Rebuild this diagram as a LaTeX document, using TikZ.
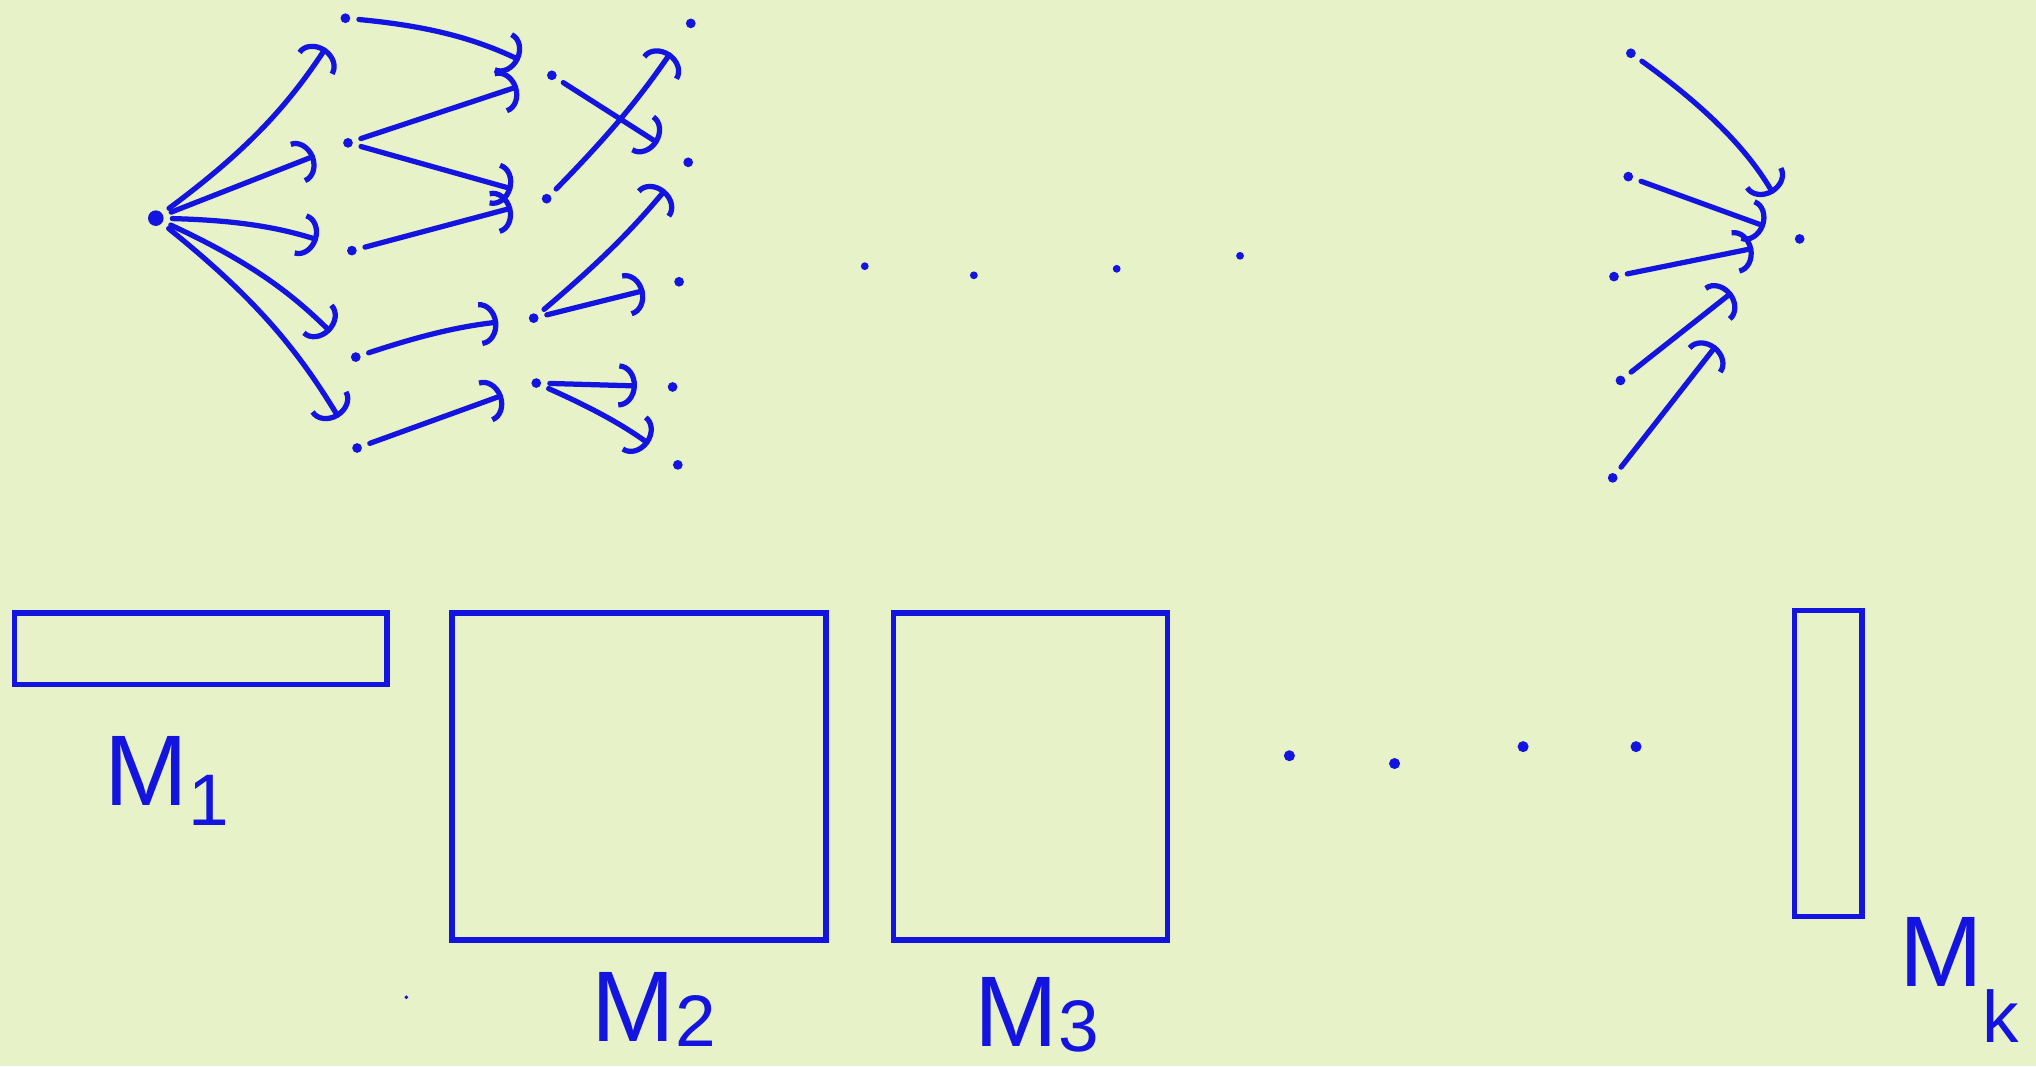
\documentclass[tikz,border=0pt]{standalone}
\usepackage{fontspec}
\setmainfont{Liberation Sans}
\usetikzlibrary{arrows.meta,positioning}
\definecolor{pen}{RGB}{20,20,225}
\definecolor{paper}{RGB}{232,242,200}
\newcommand\subidx[2]{\raisebox{#1}{\fontsize{16}{16}\selectfont #2}}
\begin{document}
\begin{tikzpicture}[x=0.1mm, y=-0.1mm,
    unit/.style={circle, fill=pen, inner sep=0pt, minimum size=0.75mm},
    gapdot/.style={circle, fill=pen, inner sep=0pt, minimum size=0.6mm},
    link/.style={draw=pen, line width=1.15pt, line cap=round, -{Arc Barb[length=1.4mm, width=3.4mm]}, shorten >=2.3mm, shorten <=0.6mm},
    matbox/.style={rectangle, draw=pen, line width=1.2pt, inner sep=0pt},
    lbl/.style={text=pen, inner sep=0pt, anchor=base west, font=\fontsize{22}{24}\selectfont}]
    \fill[paper] (0,0) rectangle (1568,821);
    \useasboundingbox (0,0) rectangle (1568,821);

    \node[unit, minimum size=1.2mm] (in) at (120,168) {};
    \foreach \n/\x/\y in {1/266/14, 2/268/110, 3/271/193, 4/274/275, 5/275/345}
        \node[unit] (a\n) at (\x,\y) {};
    \foreach \n/\x/\y in {1/425/58, 2/421/153, 3/411/245, 4/413/295}
        \node[unit] (b\n) at (\x,\y) {};
    \foreach \n/\x/\y in {1/532/18, 2/530/125, 3/523/217, 4/518/298, 5/522/358}
        \node[unit] (c\n) at (\x,\y) {};
    \foreach \n/\x/\y in {1/1256/41, 2/1254/136, 3/1243/213, 4/1248/293, 5/1242/368}
        \node[unit] (r\n) at (\x,\y) {};
    \node[unit] (out) at (1386,184) {};

    \draw[link] (in) to[bend right=10] (a1);
    \draw[link] (in) -- (a2);
    \draw[link] (in) to[bend left=8] (a3);
    \draw[link] (in) to[bend left=10] (a4);
    \draw[link] (in) to[bend left=10] (a5);

    \draw[link] (a1) to[bend left=10] (b1);
    \draw[link] (a2) -- (b1);
    \draw[link] (a2) -- (b2);
    \draw[link] (a3) -- (b2);
    \draw[link] (a4) to[bend left=6] (b3);
    \draw[link] (a5) -- (b4);

    \draw[link] (b1) -- (c2);
    \draw[link] (b2) to[bend right=5] (c1);
    \draw[link] (b3) to[bend right=5] (c2);
    \draw[link] (b3) -- (c3);
    \draw[link] (b4) -- (c4);
    \draw[link] (b4) to[bend left=6] (c5);

    \draw[link, shorten >=3.6mm] (r1) to[bend left=12] (out);
    \foreach \n/\gap in {2/2.4mm, 3/3.2mm, 4/6.2mm, 5/10mm}
        \draw[link, shorten >=\gap] (r\n) -- (out);

    \foreach \n/\x/\y in {1/666/205, 2/750/212, 3/860/207, 4/955/197}
        \node[gapdot] (d\n) at (\x,\y) {};
    \foreach \n/\x/\y in {1/993/582, 2/1074/588, 3/1173/575, 4/1260/575}
        \node[gapdot, minimum size=0.85mm] (e\n) at (\x,\y) {};
    \node[gapdot, minimum size=0.3mm] (speck) at (313,768) {};

    \node[matbox, minimum width=28.7mm, minimum height=5.5mm] (m1) at (154.5,499.5) {};
    \node[matbox, minimum width=28.8mm, minimum height=25.2mm] (m2) at (492,598) {};
    \node[matbox, minimum width=21.1mm, minimum height=25.2mm] (m3) at (793.5,598) {};
    \node[matbox, minimum width=5.2mm, minimum height=23.6mm] (mk) at (1408,588) {};

    \node[lbl] (l1) at (80,620) {M\subidx{-0.2em}{1}};
    \node[lbl] (l2) at (455,802) {M\subidx{-0.05em}{2}};
    \node[lbl] (l3) at (750,806) {M\subidx{-0.05em}{3}};
    \node[lbl] (lk) at (1462,760) {M\subidx{-0.55em}{k}};
\end{tikzpicture}
\end{document}
